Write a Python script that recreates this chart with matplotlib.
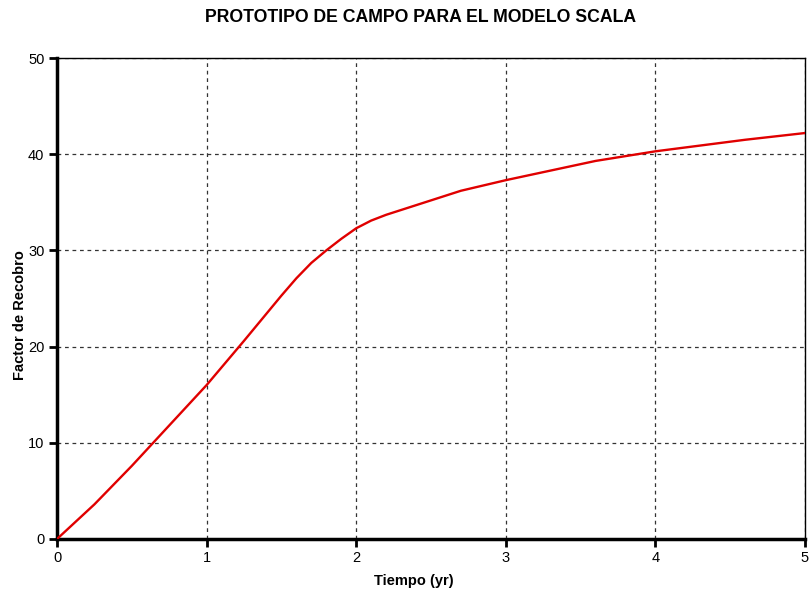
import matplotlib
matplotlib.use("Agg")
import matplotlib.pyplot as plt

plt.rcParams['font.family'] = ['Liberation Sans', 'DejaVu Sans']

tiempo = [0.0, 0.25, 0.5, 0.75, 1.0, 1.25, 1.5, 1.6, 1.7, 1.8, 1.9, 2.0, 2.1,
          2.2, 2.4, 2.7, 3.0, 3.3, 3.6, 4.0, 4.3, 4.6, 5.0]
factor_recobro = [0.0, 3.6, 7.6, 11.8, 16.0, 20.6, 25.3, 27.1, 28.7, 30.0, 31.2,
                  32.3, 33.1, 33.7, 34.7, 36.2, 37.3, 38.3, 39.3, 40.3, 40.9,
                  41.5, 42.2]
x_ticks = [0, 1, 2, 3, 4, 5]
y_ticks = [0, 10, 20, 30, 40, 50]

fig = plt.figure(figsize=(8.11, 5.93), dpi=100)
ax = fig.add_axes([57/811, 1-539/593, (805-57)/811, (539-58)/593])

ax.plot(tiempo, factor_recobro, color='#e00000', lw=1.7, zorder=3)
ax.set_xlim(0, 5)
ax.set_ylim(0, 50)
ax.set_xticks(x_ticks)
ax.set_yticks(y_ticks)
ax.grid(True, color='#333333', linestyle=(0, (3, 3)), linewidth=0.9)
for s in ['left', 'bottom']:
    ax.spines[s].set_linewidth(2.5)
for s in ['top', 'right']:
    ax.spines[s].set_linewidth(1.0)
ax.tick_params(direction='out', length=6, width=2, labelsize=10.5, pad=3)

fig.text(414/811, 1-581/593, 'Tiempo (yr)', ha='center', va='center',
         fontsize=10.5, fontweight='bold')
fig.text(20/811, 1-315/593, 'Factor de Recobro', ha='center', va='center',
         rotation=90, fontsize=10.5, fontweight='bold')
fig.text(421/811, 1-18/593, 'PROTOTIPO DE CAMPO PARA EL MODELO SCALA',
         ha='center', va='center', fontsize=12.7, fontweight='bold')

fig.savefig('out.png', dpi=100)
